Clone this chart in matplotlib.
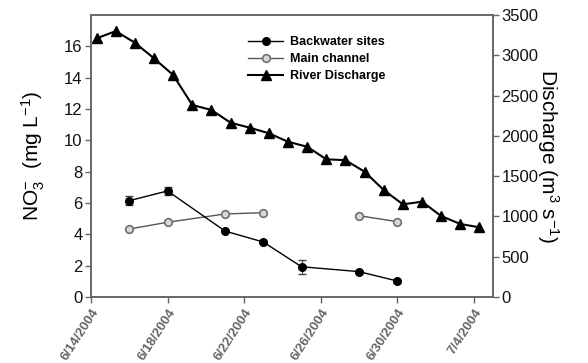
import numpy as np
import pandas as pd
import matplotlib
matplotlib.use("Agg")
import matplotlib.pyplot as plt
from matplotlib.lines import Line2D

plt.rcParams['font.family'] = ['Liberation Sans', 'DejaVu Sans']
plt.rcParams['mathtext.fontset'] = 'custom'
plt.rcParams['mathtext.rm'] = 'Liberation Sans'
plt.rcParams['mathtext.it'] = 'Liberation Sans'

# backwater sites (NO3-, mg/L)
bw_dates = pd.to_datetime(['2004-06-16', '2004-06-18', '2004-06-21', '2004-06-23',
                           '2004-06-25', '2004-06-28', '2004-06-30'])
bw_vals = [6.15, 6.77, 4.21, 3.51, 1.93, 1.62, 1.02]
bw_err = [0.29, 0.26, 0.08, 0.08, 0.43, 0.06, 0.06]

# main channel (gap on 6/25)
mc_dates = pd.to_datetime(['2004-06-16', '2004-06-18', '2004-06-21', '2004-06-23',
                           '2004-06-25', '2004-06-28', '2004-06-30'])
mc_vals = [4.34, 4.77, 5.30, 5.38, np.nan, 5.19, 4.81]

# river discharge (m3/s), daily readings
q_dates = pd.date_range('2004-06-14 07:00', periods=21, freq='D')
q_vals = [3210, 3300, 3156, 2962, 2755, 2383, 2321, 2163, 2101, 2032, 1927,
          1865, 1709, 1698, 1555, 1328, 1150, 1183, 1005, 906, 865]

tick_dates = pd.to_datetime(['2004-06-14', '2004-06-18', '2004-06-22',
                             '2004-06-26', '2004-06-30', '2004-07-04'])
tick_labels = ['6/14/2004', '6/18/2004', '6/22/2004', '6/26/2004', '6/30/2004', '7/4/2004']

spine_col = '#666666'
mc_face = '#d8d8d8'
mc_edge = '#6e6e6e'

fig = plt.figure(figsize=(5.88, 3.63), dpi=100)
ax = fig.add_axes([91/588, 1-297/363, (493-91)/588, (297-15)/363])
ax2 = ax.twinx()

ax.errorbar(bw_dates, bw_vals, yerr=bw_err, color='black', marker='o', ms=5.5,
            lw=1, capsize=3, elinewidth=0.8, ecolor='#444444')
ax.plot(mc_dates, mc_vals, color='#555555', marker='o', ms=5.5, lw=1,
        mfc=mc_face, mec=mc_edge, mew=1.2)
ax2.plot(q_dates, q_vals, color='black', marker='^', ms=6.5, lw=1.5)

ax.set_xlim(pd.Timestamp('2004-06-14'), pd.Timestamp('2004-07-05'))
ax.set_ylim(0, 18)
ax.set_yticks(range(0, 17, 2))
ax2.set_ylim(0, 3500)
ax2.set_yticks(range(0, 3501, 500))

ax.set_xticks(tick_dates)
ax.set_xticklabels(tick_labels, rotation=57, ha='right', va='top',
                   rotation_mode='anchor', fontsize=9.5, fontweight='bold', color='#111111')

for a in (ax, ax2):
    for s in a.spines.values():
        s.set_color(spine_col)
        s.set_linewidth(1.2)
    a.tick_params(axis='y', labelsize=12, colors=spine_col, labelcolor='#111111',
                  length=4, width=1, pad=2)
ax.tick_params(axis='x', colors=spine_col, length=4, width=1, pad=3)

ax.set_ylabel(r'NO$_3^{-}$  (mg L$^{-1}$)', fontsize=15, labelpad=12)
ax2.set_ylabel(r'Discharge (m$^3$ s$^{-1}$)', fontsize=15, rotation=270, labelpad=16)

handles = [Line2D([], [], color='black', marker='o', ms=5.5, lw=1),
           Line2D([], [], color='#555555', marker='o', ms=5.5, lw=1,
                  mfc=mc_face, mec=mc_edge, mew=1.2),
           Line2D([], [], color='black', marker='^', ms=6.5, lw=1.5)]
ax.legend(handles, ['Backwater sites', 'Main channel', 'River Discharge'],
          loc='upper left', bbox_to_anchor=(0.37, 0.955), frameon=False,
          prop={'size': 9, 'weight': 'bold'}, handlelength=2.8, labelspacing=0.4,
          handletextpad=0.5, borderpad=0.2)

fig.savefig('out.png', dpi=100)
